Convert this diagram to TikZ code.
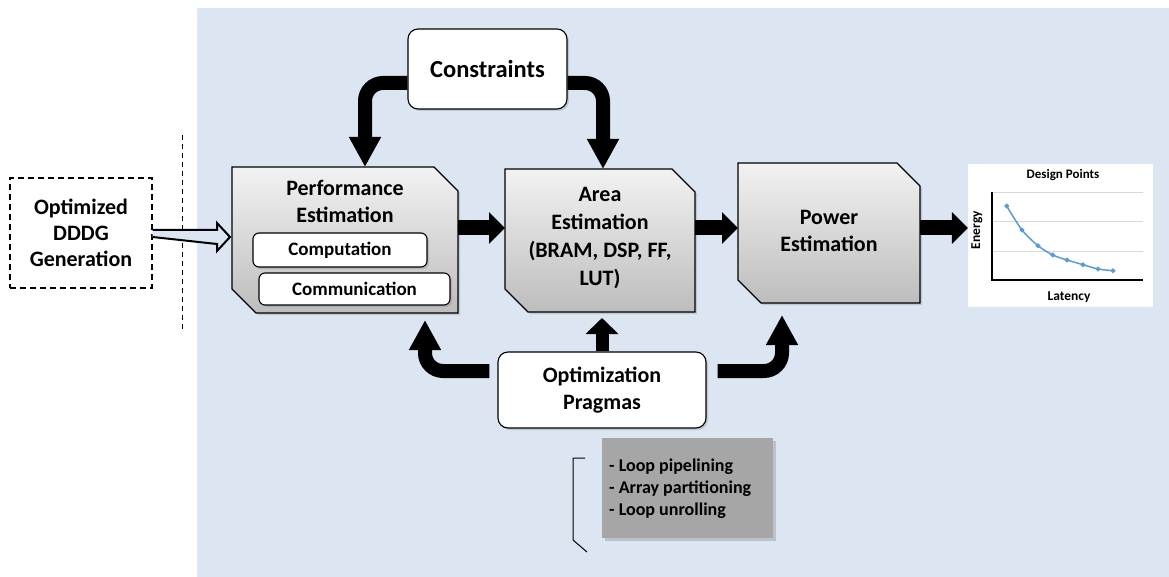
\documentclass[tikz,border=0pt]{standalone}
\usepackage{fontspec}
\setmainfont{Carlito}
\usetikzlibrary{arrows.meta,shadows,calc}
\definecolor{bgblue}{HTML}{DCE6F2}
\definecolor{boxtop}{HTML}{F2F2F2}
\definecolor{boxbot}{HTML}{BDBDBD}
\definecolor{listgray}{HTML}{A6A6A6}
\definecolor{chartblue}{HTML}{5B9BD5}
\tikzset{
  shd/.style={drop shadow={shadow xshift=2pt,shadow yshift=-2pt,opacity=0.3}},
  anchorbox/.style={inner sep=0pt,outer sep=0pt,minimum width=#1},
  snipbox/.style={draw=black,line width=1.2pt,top color=boxtop,bottom color=boxbot,shd},
  whitebox/.style={draw=black,line width=1.1pt,fill=white,rounded corners=10pt,shd,inner sep=0pt,align=center},
  lbl/.style={align=center,font=\fontsize{22}{27}\selectfont\bfseries},
  fatH/.style={line width=15pt,-{Triangle[width=31pt,length=16pt]}},
  fatC/.style={line width=14pt,rounded corners=18pt,-{Triangle[width=30pt,length=30pt]}},
  fatU/.style={line width=13pt,-{Triangle[width=32pt,length=16pt]}},
  hollow/.style={draw=black,line width=2pt,fill=bgblue,line join=miter},
}
\newcommand\snipshape[2]{%
  \path[snipbox] (#1.north west) -- ([xshift=-#2]#1.north east) -- ([yshift=-#2]#1.north east)
    -- (#1.south east) -- ([xshift=#2]#1.south west) -- ([yshift=#2]#1.south west) -- cycle;}
\begin{document}
\begin{tikzpicture}[x=1pt,y=-1pt,font=\bfseries]
\useasboundingbox (0,0) rectangle (1169,577);
\fill[white] (0,0) rectangle (1169,577);
\fill[bgblue] (197,8) rectangle (1169,577);

% left dashed box
\node[draw=black,line width=1.2pt,dash pattern=on 6pt off 4pt,minimum width=142pt,minimum height=110pt,
      lbl,font=\fontsize{22}{26}\selectfont\bfseries] (dddg) at (81,233) {Optimized\\DDDG\\Generation};
\draw[line width=1pt,dash pattern=on 5pt off 4pt] (182,135) -- (182,330);

% estimation boxes
\node[anchorbox=226pt,minimum height=146pt] (perf) at (345,240) {};
\snipshape{perf}{24pt}
\node[anchorbox=190pt,minimum height=143pt] (area) at (600,240.5) {};
\snipshape{area}{23pt}
\node[anchorbox=182pt,minimum height=140pt] (power) at (829,233) {};
\snipshape{power}{23pt}

\node[lbl] (perflbl) at (345,201) {Performance\\Estimation};
\node[whitebox,rounded corners=6pt,minimum width=174pt,minimum height=34pt,font=\fontsize{19}{22}\selectfont\bfseries] (comp) at (340,250) {Computation};
\node[whitebox,rounded corners=6pt,minimum width=191pt,minimum height=32pt,font=\fontsize{19}{22}\selectfont\bfseries] (comm) at (354.5,289) {Communication};
\node[lbl,font=\fontsize{22}{28}\selectfont\bfseries] (arealbl) at (600,238) {Area\\Estimation\\(BRAM, DSP, FF,\\LUT)};
\node[lbl] (powerlbl) at (829,231) {Power\\Estimation};

% constraints and pragmas
\node[whitebox,minimum width=159pt,minimum height=80pt,font=\fontsize{24.5}{28}\selectfont\bfseries] (constr) at (487.5,69) {Constraints};
\node[whitebox,minimum width=208pt,minimum height=76pt,lbl] (prag) at (602,390) {Optimization\\Pragmas};

% chart
\node[fill=white,minimum width=185pt,minimum height=143pt,inner sep=0pt] (chart) at (1060.5,235.5) {};
\draw[gray!30,line width=0.8pt] (992,192) -- (1143,192) (992,221) -- (1143,221) (992,251) -- (1143,251);
\draw[black,line width=1.3pt] (992,192) -- (992,280) -- (1143,280);
\draw[chartblue,line width=1.5pt] plot[smooth,mark=*,mark size=1.6pt,mark options={fill=chartblue}] coordinates
  {(1006.7,206) (1022,230) (1038,245.7) (1052.7,255) (1067,260) (1083,264.7) (1098,269) (1113,270.7)};
\node[font=\fontsize{13}{15}\selectfont\bfseries] (ctitle) at (1063,175) {Design Points};
\node[font=\fontsize{13.5}{15}\selectfont\bfseries] (clat) at (1069,297) {Latency};
\node[font=\fontsize{13.5}{15}\selectfont\bfseries,rotate=90] (cen) at (977,230) {Energy};

% pragma list
\node[fill=listgray,minimum width=171pt,minimum height=100pt,inner sep=0pt,
      drop shadow={shadow xshift=3pt,shadow yshift=-3pt,opacity=0.35}] (plist) at (687.5,488) {};
\node[anchor=west,align=left,inner sep=0pt,font=\fontsize{18}{22}\selectfont\bfseries] (plisttxt) at (609,489)
  {- Loop pipelining\\- Array partitioning\\- Loop unrolling};
\draw[line width=1pt] (585,458) -- (573,458) -- (573,540) -- (587,552);

% connectors
\coordinate (row) at (0,228);
\draw[hollow] ($(dddg.east)+(0,-3)$) -- ($(perf.west)+(-15,-10)$) -- ($(perf.west)+(-15,-17)$)
  -- ($(perf.west)+(-2,-3)$) -- ($(perf.west)+(-15,11)$) -- ($(perf.west)+(-15,4)$) -- ($(dddg.east)+(0,4)$);
\draw[fatH] (perf.east |- row) -- (area.west |- row);
\draw[fatH] (area.east |- row) -- (power.west |- row);
\draw[fatH] (power.east |- row) -- (chart.west |- row);

\draw[fatC] ([yshift=-14pt]constr.west) -| ([xshift=20pt]perf.north);
\draw[fatC] ([yshift=-14pt]constr.east) -| ([xshift=3pt]area.north);

\coordinate (tipy) at (0,318);
\draw[fatU] (prag.north) -- (prag.north |- tipy);
\draw[fatC] ([xshift=-8pt,yshift=19pt]prag.west) -| ([xshift=80pt,yshift=-7pt]perf.south);
\draw[fatC] ([xshift=11pt,yshift=19pt]prag.east) -| ([xshift=-47pt,yshift=-12pt]power.south);
\end{tikzpicture}
\end{document}
